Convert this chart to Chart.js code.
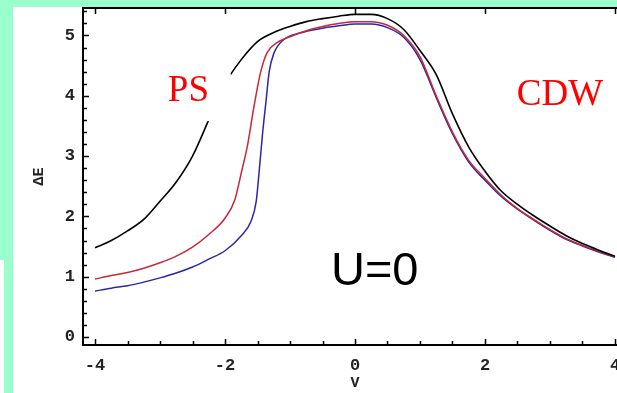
<!DOCTYPE html>
<html>
<head>
<meta charset="utf-8">
<script src="https://cdn.jsdelivr.net/npm/chart.js@4.4.0/dist/chart.umd.min.js"></script>
<style>
html, body { margin:0; padding:0; width:617px; height:393px; overflow:hidden; background:#99ffcc; position:relative; }
#paper { position:absolute; left:13px; top:7px; width:604px; height:386px; background:#fff; }
#corner { position:absolute; left:0; top:260px; width:4px; height:133px; background:#fff; }
#wrap { position:absolute; left:0; top:0; }
</style>
</head>
<body>
<div id="paper"></div>
<div id="corner"></div>
<div id="wrap"><canvas id="myChart" width="640" height="393"></canvas></div>
<script>
// V values and gap dE for the three curves
const blackV = [-4, -3.75, -3.5, -3.25, -3, -2.75, -2.5, -2.25, -2, -1.75, -1.5, -1.25, -1, -0.75, -0.5, -0.25, 0, 0.25, 0.5, 0.75, 1, 1.25, 1.5, 1.75, 2, 2.25, 2.5, 2.75, 3, 3.25, 3.5, 3.75, 4];
const blackE = [1.48, 1.6, 1.76, 1.95, 2.25, 2.57, 3.0, 3.6, 4.2, 4.6, 4.9, 5.05, 5.15, 5.23, 5.28, 5.32, 5.35, 5.35, 5.28, 5.1, 4.75, 4.35, 3.7, 3.15, 2.75, 2.42, 2.2, 2.01, 1.84, 1.68, 1.55, 1.44, 1.34];

const redV = [-4, -3.75, -3.5, -3.25, -3, -2.75, -2.5, -2.25, -2, -1.85, -1.75, -1.65, -1.55, -1.45, -1.35, -1.2, -1, -0.75, -0.5, -0.25, 0, 0.25, 0.5, 0.75, 1, 1.25, 1.5, 1.75, 2, 2.25, 2.5, 2.75, 3, 3.25, 3.5, 3.75, 4];
const redE = [0.96, 1.02, 1.07, 1.14, 1.23, 1.34, 1.49, 1.7, 1.97, 2.27, 2.72, 3.2, 3.85, 4.4, 4.72, 4.88, 4.98, 5.08, 5.15, 5.2, 5.23, 5.23, 5.17, 5.0, 4.65, 4.0, 3.4, 2.93, 2.63, 2.35, 2.13, 1.95, 1.78, 1.63, 1.52, 1.42, 1.33];

const blueV = [-4, -3.75, -3.5, -3.25, -3, -2.75, -2.5, -2.25, -2, -1.75, -1.6, -1.52, -1.47, -1.42, -1.37, -1.32, -1.25, -1.1, -0.85, -0.5, -0.25, 0, 0.25, 0.5, 0.75, 1, 1.25, 1.5, 1.75, 2, 2.25, 2.5, 2.75, 3, 3.25, 3.5, 3.75, 4];
const blueE = [0.76, 0.81, 0.85, 0.91, 0.98, 1.06, 1.16, 1.29, 1.43, 1.68, 1.92, 2.25, 2.8, 3.4, 3.9, 4.4, 4.7, 4.93, 5.04, 5.12, 5.16, 5.19, 5.19, 5.13, 4.97, 4.6, 3.97, 3.37, 2.9, 2.6, 2.33, 2.12, 1.94, 1.77, 1.62, 1.51, 1.41, 1.32];

const toPoints = (xs, ys) => xs.map((v, i) => ({x: v, y: ys[i]}));

const tickFont = {family: 'Liberation Mono', size: 17, weight: 'bold'};
const titleFont = {family: 'Liberation Mono', size: 15, weight: 'bold'};

// inward ticks, frame and the text labels
const framePlugin = {
    id: 'frame',
    afterDatasetsDraw(chart) {
        const {ctx, chartArea: a, scales: {x, y}} = chart;
        ctx.save();

        // white box behind "PS"
        ctx.fillStyle = '#fff';
        const bx0 = x.getPixelForValue(-3.15), bx1 = x.getPixelForValue(-1.91);
        const by0 = y.getPixelForValue(4.37), by1 = y.getPixelForValue(3.58);
        ctx.fillRect(bx0, by0, bx1 - bx0, by1 - by0);

        ctx.fillStyle = '#ff0000';
        ctx.textBaseline = 'alphabetic';
        ctx.font = '37px "Liberation Serif"';
        ctx.fillText('PS', x.getPixelForValue(-2.88), y.getPixelForValue(3.91));
        ctx.fillText('CDW', x.getPixelForValue(2.49), y.getPixelForValue(3.85));

        ctx.fillStyle = '#000';
        ctx.font = '47px "Liberation Sans"';
        ctx.fillText('U=0', x.getPixelForValue(-0.37), y.getPixelForValue(0.86));

        ctx.strokeStyle = '#000';
        ctx.lineWidth = 1.5;
        ctx.beginPath();
        x.ticks.forEach(t => {
            const px = Math.round(x.getPixelForValue(t.value)) + 0.5;
            const major = Math.abs(t.value % 2) < 1e-6;
            const len = major ? 6 : 4;
            ctx.moveTo(px, a.bottom); ctx.lineTo(px, a.bottom - len);
            if (major) { ctx.moveTo(px, a.top); ctx.lineTo(px, a.top + len); }
        });
        y.ticks.forEach(t => {
            const py = Math.round(y.getPixelForValue(t.value)) + 0.5;
            const major = Math.abs(t.value - Math.round(t.value)) < 1e-6;
            const len = major ? 6 : 4;
            ctx.moveTo(a.left, py); ctx.lineTo(a.left + len, py);
        });
        ctx.stroke();

        ctx.lineWidth = 2;
        ctx.strokeRect(a.left, a.top, a.right - a.left, a.bottom - a.top);
        ctx.restore();
    }
};

const ctx = document.querySelector('#myChart').getContext('2d');

const myChart = new Chart(ctx, {
    type: 'line',
    data: {
        datasets: [
            {data: toPoints(blackV, blackE), borderColor: '#000000', borderWidth: 1.6},
            {data: toPoints(redV, redE), borderColor: '#c82838', borderWidth: 1.5},
            {data: toPoints(blueV, blueE), borderColor: '#2828a8', borderWidth: 1.5}
        ]
    },
    options: {
        responsive: false,
        animation: false,
        layout: {padding: {top: 8, right: 13, left: 0, bottom: 0}},
        elements: {
            point: {radius: 0},
            line: {cubicInterpolationMode: 'monotone', fill: false}
        },
        plugins: {legend: {display: false}, tooltip: {enabled: false}},
        scales: {
            x: {
                type: 'linear',
                min: -4.185,
                max: 4.185,
                border: {display: false},
                grid: {display: false},
                ticks: {
                    stepSize: 0.5,
                    includeBounds: false,
                    autoSkip: false,
                    maxRotation: 0,
                    padding: 3,
                    color: '#222',
                    font: tickFont,
                    callback: v => Math.abs(v % 2) < 1e-6 ? String(Math.round(v)) : ''
                },
                title: {display: true, text: 'V', color: '#222', font: titleFont, padding: {top: 0, bottom: 1}},
                afterFit: s => { s.height = 48; s.paddingLeft = 0; s.paddingRight = 0; }
            },
            y: {
                min: -0.133,
                max: 5.456,
                border: {display: false},
                grid: {display: false},
                ticks: {
                    stepSize: 0.2,
                    includeBounds: false,
                    autoSkip: false,
                    padding: 0,
                    color: '#222',
                    font: tickFont,
                    callback: v => Math.abs(v - Math.round(v)) < 1e-6 ? String(Math.round(v)) : ''
                },
                title: {display: true, text: 'ΔE', color: '#222', font: titleFont, padding: {top: 30, bottom: 0}},
                afterFit: s => { s.width = 83; s.paddingTop = 0; s.paddingBottom = 0; }
            }
        }
    },
    plugins: [framePlugin]
});
</script>
</body>
</html>
